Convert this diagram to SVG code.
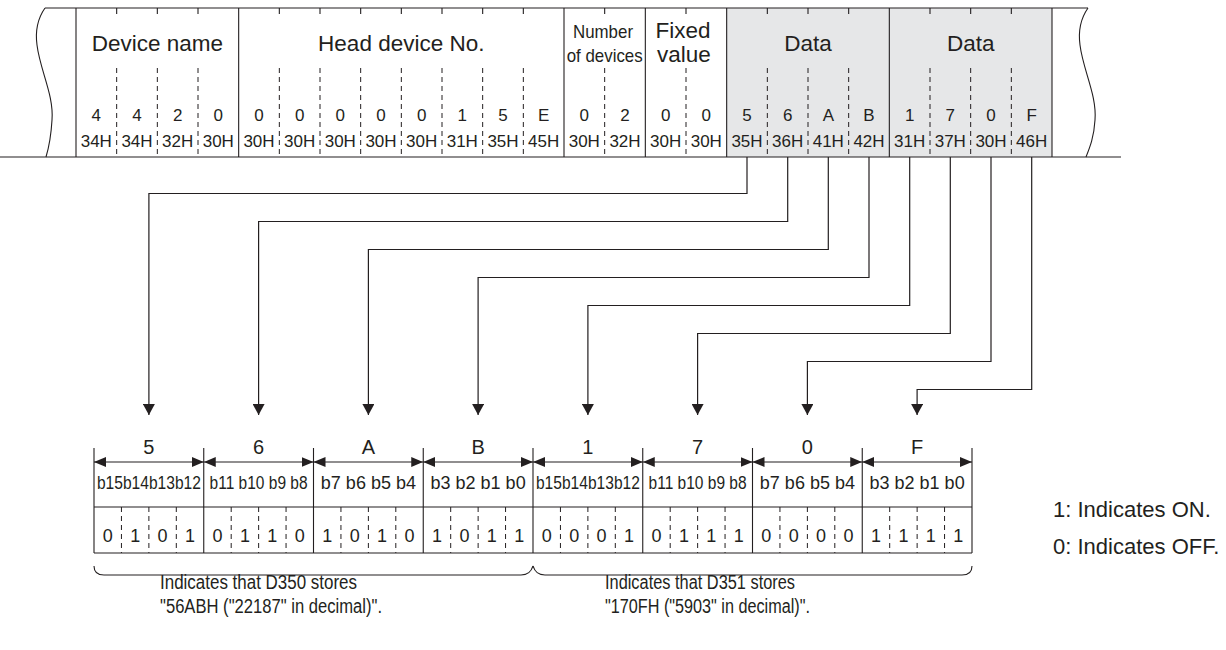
<svg xmlns="http://www.w3.org/2000/svg" width="1226" height="650" viewBox="0 0 1226 650">
<style>
.t{font-family:"Liberation Sans",Arial,sans-serif;fill:#231f20;text-anchor:middle}
.h{font-size:22.5px}
.s{font-size:17px}
.nd{font-size:19px}
.bl{font-size:18px}
.nb{font-size:20px}
.lg{font-size:22px;text-anchor:start}
.nt{font-size:20px;text-anchor:start}
.ln{stroke:#231f20;stroke-width:1.1;fill:none}
.ds{stroke:#231f20;stroke-width:1;stroke-dasharray:5 4;fill:none}
.cn{stroke:#231f20;stroke-width:1.2;fill:none;marker-end:url(#arrDown)}
.dm{stroke:#231f20;stroke-width:1.1;fill:none;marker-start:url(#arrDim);marker-end:url(#arrDim)}
</style>
<defs>
<marker id="arrDown" viewBox="0 0 11 12" refX="11" refY="6" markerWidth="11" markerHeight="12" markerUnits="userSpaceOnUse" orient="auto"><path d="M0,0 L11,6 L0,12 Z" fill="#231f20"/></marker>
<marker id="arrDim" viewBox="0 0 12 10" refX="12" refY="5" markerWidth="12" markerHeight="10" markerUnits="userSpaceOnUse" orient="auto-start-reverse"><path d="M0,0 L12,5 L0,10 Z" fill="#231f20"/></marker>
</defs>
<rect width="1226" height="650" fill="#fff"/>

<g id="frame">
<rect x="726.67" y="8" width="325.33" height="149" fill="#e6e7e8"/>
<line class="ln" x1="45" y1="8" x2="1088" y2="8"/>
<line class="ln" x1="0" y1="157" x2="1121" y2="157"/>
<path class="ln" d="M45,8 C38,18 35,30 37,45 C40,70 54,95 52,120 C51,137 49,147 46,157"/>
<path class="ln" d="M1088,8 C1081,18 1078,30 1080,45 C1083,70 1097,95 1095,120 C1094,137 1090,147 1086,157"/>
<g class="ln">
<line x1="76" y1="8" x2="76" y2="157"/>
<line x1="238.67" y1="8" x2="238.67" y2="157"/>
<line x1="564" y1="8" x2="564" y2="157"/>
<line x1="645.33" y1="8" x2="645.33" y2="157"/>
<line x1="726.67" y1="8" x2="726.67" y2="157"/>
<line x1="889.33" y1="8" x2="889.33" y2="157"/>
<line x1="1052" y1="8" x2="1052" y2="157"/>
</g>
<path class="ln" d="M116.67,8v6M157.33,8v6M198,8v6M279.33,8v6M320,8v6M360.67,8v6M401.33,8v6M442,8v6M482.67,8v6M523.33,8v6M604.67,8v6M686,8v6M767.33,8v6M808,8v6M848.67,8v6M930,8v6M970.67,8v6M1011.33,8v6"/>
<path class="ds" d="M116.67,68V157M157.33,68V157M198,68V157M279.33,68V157M320,68V157M360.67,68V157M401.33,68V157M442,68V157M482.67,68V157M523.33,68V157M604.67,68V157M686,68V157M767.33,68V157M808,68V157M848.67,68V157M930,68V157M970.67,68V157M1011.33,68V157"/>
</g>

<g id="field-device-name">
<text class="t h" x="157.3" y="50.5">Device name</text>
<text class="t s" y="120.5"><tspan x="96.3">4</tspan><tspan x="137">4</tspan><tspan x="177.7">2</tspan><tspan x="218.3">0</tspan></text>
<text class="t s" y="147"><tspan x="96.3">34H</tspan><tspan x="137">34H</tspan><tspan x="177.7">32H</tspan><tspan x="218.3">30H</tspan></text>
</g>
<g id="field-head-device">
<text class="t h" x="401.3" y="50.5">Head device No.</text>
<text class="t s" y="120.5"><tspan x="259">0</tspan><tspan x="299.7">0</tspan><tspan x="340.3">0</tspan><tspan x="381">0</tspan><tspan x="421.7">0</tspan><tspan x="462.3">1</tspan><tspan x="503">5</tspan><tspan x="543.7">E</tspan></text>
<text class="t s" y="147"><tspan x="259">30H</tspan><tspan x="299.7">30H</tspan><tspan x="340.3">30H</tspan><tspan x="381">30H</tspan><tspan x="421.7">30H</tspan><tspan x="462.3">31H</tspan><tspan x="503">35H</tspan><tspan x="543.7">45H</tspan></text>
</g>
<g id="field-number-of-devices">
<text class="t nd" x="603" y="37.5" textLength="60" lengthAdjust="spacingAndGlyphs">Number</text>
<text class="t nd" x="604.7" y="61.5" textLength="76" lengthAdjust="spacingAndGlyphs">of devices</text>
<text class="t s" y="120.5"><tspan x="584.3">0</tspan><tspan x="625">2</tspan></text>
<text class="t s" y="147"><tspan x="584.3">30H</tspan><tspan x="625">32H</tspan></text>
</g>
<g id="field-fixed-value">
<text class="t h" x="683" y="37.5">Fixed</text>
<text class="t h" x="684" y="61.5">value</text>
<text class="t s" y="120.5"><tspan x="665.7">0</tspan><tspan x="706.3">0</tspan></text>
<text class="t s" y="147"><tspan x="665.7">30H</tspan><tspan x="706.3">30H</tspan></text>
</g>
<g id="field-data-1">
<text class="t h" x="808" y="50.5">Data</text>
<text class="t s" y="120.5"><tspan x="747">5</tspan><tspan x="787.7">6</tspan><tspan x="828.3">A</tspan><tspan x="869">B</tspan></text>
<text class="t s" y="147"><tspan x="747">35H</tspan><tspan x="787.7">36H</tspan><tspan x="828.3">41H</tspan><tspan x="869">42H</tspan></text>
</g>
<g id="field-data-2">
<text class="t h" x="970.7" y="50.5">Data</text>
<text class="t s" y="120.5"><tspan x="909.7">1</tspan><tspan x="950.3">7</tspan><tspan x="991">0</tspan><tspan x="1031.7">F</tspan></text>
<text class="t s" y="147"><tspan x="909.7">31H</tspan><tspan x="950.3">37H</tspan><tspan x="991">30H</tspan><tspan x="1031.7">46H</tspan></text>
</g>

<g id="connectors">
<path class="cn" d="M747,157 V193.5 H148.9 V415"/>
<path class="cn" d="M787.7,157 V221.5 H258.6 V415"/>
<path class="cn" d="M828.3,157 V249.5 H368.4 V415"/>
<path class="cn" d="M869,157 V277.5 H478.1 V415"/>
<path class="cn" d="M909.7,157 V305.5 H587.9 V415"/>
<path class="cn" d="M950.3,157 V333.5 H697.6 V415"/>
<path class="cn" d="M991,157 V361.5 H807.4 V415"/>
<path class="cn" d="M1031.7,157 V389.5 H917.1 V415"/>
</g>

<g id="bit-table">
<path class="ln" d="M94,448V553M203.75,448V553M313.5,448V553M423.25,448V553M533,448V553M642.75,448V553M752.5,448V553M862.25,448V553M972,448V553"/>
<line class="ln" x1="94" y1="507" x2="972" y2="507"/>
<line class="ln" x1="94" y1="553" x2="972" y2="553"/>
<path class="ds" d="M121.44,507V553M148.88,507V553M176.31,507V553M231.19,507V553M258.63,507V553M286.06,507V553M340.94,507V553M368.38,507V553M395.81,507V553M450.69,507V553M478.13,507V553M505.56,507V553M560.44,507V553M587.88,507V553M615.31,507V553M670.19,507V553M697.63,507V553M725.06,507V553M779.94,507V553M807.38,507V553M834.81,507V553M889.69,507V553M917.13,507V553M944.56,507V553"/>
<g class="dims">
<line class="dm" x1="94" y1="462" x2="203.75" y2="462"/>
<line class="dm" x1="203.75" y1="462" x2="313.5" y2="462"/>
<line class="dm" x1="313.5" y1="462" x2="423.25" y2="462"/>
<line class="dm" x1="423.25" y1="462" x2="533" y2="462"/>
<line class="dm" x1="533" y1="462" x2="642.75" y2="462"/>
<line class="dm" x1="642.75" y1="462" x2="752.5" y2="462"/>
<line class="dm" x1="752.5" y1="462" x2="862.25" y2="462"/>
<line class="dm" x1="862.25" y1="462" x2="972" y2="462"/>
</g>
</g>

<g id="nibble-5">
<text class="t nb" x="148.9" y="454">5</text>
<text class="t bl" x="148.9" y="489" textLength="104" lengthAdjust="spacingAndGlyphs">b15b14b13b12</text>
<text class="t bl" y="541.5"><tspan x="107.7">0</tspan><tspan x="135.2">1</tspan><tspan x="162.6">0</tspan><tspan x="190">1</tspan></text>
</g>
<g id="nibble-6">
<text class="t nb" x="258.6" y="454">6</text>
<text class="t bl" x="258.6" y="489" textLength="98" lengthAdjust="spacingAndGlyphs">b11 b10 b9 b8</text>
<text class="t bl" y="541.5"><tspan x="217.5">0</tspan><tspan x="244.9">1</tspan><tspan x="272.3">1</tspan><tspan x="299.8">0</tspan></text>
</g>
<g id="nibble-A">
<text class="t nb" x="368.4" y="454">A</text>
<text class="t bl" x="368.4" y="489">b7 b6 b5 b4</text>
<text class="t bl" y="541.5"><tspan x="327.2">1</tspan><tspan x="354.7">0</tspan><tspan x="382.1">1</tspan><tspan x="409.5">0</tspan></text>
</g>
<g id="nibble-B">
<text class="t nb" x="478.1" y="454">B</text>
<text class="t bl" x="478.1" y="489">b3 b2 b1 b0</text>
<text class="t bl" y="541.5"><tspan x="437">1</tspan><tspan x="464.4">0</tspan><tspan x="491.8">1</tspan><tspan x="519.3">1</tspan></text>
</g>
<g id="nibble-1">
<text class="t nb" x="587.9" y="454">1</text>
<text class="t bl" x="587.9" y="489" textLength="104" lengthAdjust="spacingAndGlyphs">b15b14b13b12</text>
<text class="t bl" y="541.5"><tspan x="546.7">0</tspan><tspan x="574.2">0</tspan><tspan x="601.6">0</tspan><tspan x="629">1</tspan></text>
</g>
<g id="nibble-7">
<text class="t nb" x="697.6" y="454">7</text>
<text class="t bl" x="697.6" y="489" textLength="98" lengthAdjust="spacingAndGlyphs">b11 b10 b9 b8</text>
<text class="t bl" y="541.5"><tspan x="656.5">0</tspan><tspan x="683.9">1</tspan><tspan x="711.3">1</tspan><tspan x="738.8">1</tspan></text>
</g>
<g id="nibble-0">
<text class="t nb" x="807.4" y="454">0</text>
<text class="t bl" x="807.4" y="489">b7 b6 b5 b4</text>
<text class="t bl" y="541.5"><tspan x="766.2">0</tspan><tspan x="793.7">0</tspan><tspan x="821.1">0</tspan><tspan x="848.5">0</tspan></text>
</g>
<g id="nibble-F">
<text class="t nb" x="917.1" y="454">F</text>
<text class="t bl" x="917.1" y="489">b3 b2 b1 b0</text>
<text class="t bl" y="541.5"><tspan x="876">1</tspan><tspan x="903.4">1</tspan><tspan x="930.8">1</tspan><tspan x="958.3">1</tspan></text>
</g>

<g id="brace-d350">
<path class="ln" d="M94,566 C94,572 97,575 104,575 H521 C528,575 531,572 533,566"/>
<text class="t nt" x="160" y="589" textLength="197" lengthAdjust="spacingAndGlyphs">Indicates that D350 stores</text>
<text class="t nt" x="160" y="613" textLength="222" lengthAdjust="spacingAndGlyphs">"56ABH ("22187" in decimal)".</text>
</g>
<g id="brace-d351">
<path class="ln" d="M533,566 C535,572 538,575 545,575 H962 C969,575 972,572 972,566"/>
<text class="t nt" x="605" y="589" textLength="190" lengthAdjust="spacingAndGlyphs">Indicates that D351 stores</text>
<text class="t nt" x="605" y="613" textLength="205" lengthAdjust="spacingAndGlyphs">"170FH ("5903" in decimal)".</text>
</g>

<g id="legend">
<text class="t lg" x="1053" y="517">1: Indicates ON.</text>
<text class="t lg" x="1053" y="554">0: Indicates OFF.</text>
</g>
</svg>
